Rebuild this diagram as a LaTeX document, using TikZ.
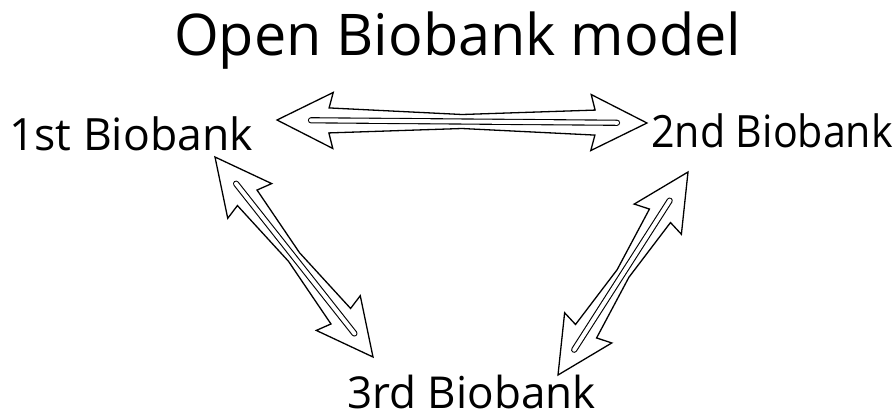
\documentclass[tikz,border=0pt]{standalone}
\usepackage{fontspec}
\setmainfont{Open Sans}
\usetikzlibrary{calc}

\tikzset{
  titletext/.style={font=\fontsize{57.5}{64}\selectfont, inner sep=0pt, anchor=base west},
  banktext/.style={font=\fontsize{44.5}{52}\selectfont, inner sep=0pt, anchor=base west},
  arrowoutline/.style={draw=black, line width=1.3pt, fill=white, line join=miter},
  arrowslot/.style={draw=black, line width=1.1pt, double=white, double distance=4pt, line cap=round},
}

% Hollow double-headed arrow between two named tips, with a pinched shaft
% and a narrow slot along its middle.
\newcommand\biarrow[2]{%
  \draw[arrowoutline]
    (#1)
    -- ($(#1)!56pt!(#2)!28pt!90:(#2)$)
    -- ($(#1)!52pt!(#2)!12.5pt!90:(#2)$)
    -- ($(#1)!0.5!(#2)!7pt!90:(#2)$)
    -- ($(#2)!52pt!(#1)!12.5pt!-90:(#1)$)
    -- ($(#2)!56pt!(#1)!28pt!-90:(#1)$)
    -- (#2)
    -- ($(#2)!56pt!(#1)!28pt!90:(#1)$)
    -- ($(#2)!52pt!(#1)!12.5pt!90:(#1)$)
    -- ($(#1)!0.5!(#2)!7pt!-90:(#2)$)
    -- ($(#1)!52pt!(#2)!12.5pt!-90:(#2)$)
    -- ($(#1)!56pt!(#2)!28pt!-90:(#2)$)
    -- cycle;
  \draw[arrowslot] ($(#1)!34pt!(#2)$) -- ($(#2)!30pt!(#1)$);
}

\begin{document}
\begin{tikzpicture}[x=1pt, y=-1pt]
  \useasboundingbox (0,0) rectangle (893,416);

  \node[titletext] (title) at (174,55) {Open Biobank model};
  \node[banktext] (b1) at (9,150) {1st Biobank};
  \node[banktext] (b2) at (651,147) {\scalebox{0.925}[1]{2nd Biobank}};
  \node[banktext, font=\fontsize{44}{52}\selectfont] (b3) at (347,408) {3rd Biobank};

  % arrow tips
  \coordinate (t12a) at (277,120);
  \coordinate (t12b) at (647,123);
  \coordinate (t13a) at (215,157);
  \coordinate (t13b) at (373,357);
  \coordinate (t23a) at (688,172);
  \coordinate (t23b) at (558,375);

  \biarrow{t12a}{t12b}
  \biarrow{t13a}{t13b}
  \biarrow{t23a}{t23b}
\end{tikzpicture}
\end{document}
